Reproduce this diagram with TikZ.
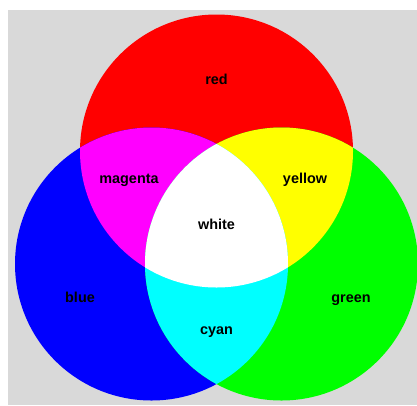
\documentclass[tikz,border=0pt]{standalone}
\usepackage{fontspec}
\setmainfont{Liberation Sans}
\definecolor{bggray}{RGB}{217,217,217}
\definecolor{cred}{RGB}{255,0,0}
\definecolor{cgreen}{RGB}{0,255,0}
\definecolor{cblue}{RGB}{0,0,255}
\definecolor{cmag}{RGB}{255,0,255}
\definecolor{cyel}{RGB}{255,255,0}
\definecolor{ccyan}{RGB}{0,255,255}
\begin{document}
\begin{tikzpicture}[x=1pt,y=-1pt,
  lbl/.style={font=\bfseries\fontsize{14.4}{16}\selectfont, text=black, inner sep=0pt,
    text height=10pt, text depth=3pt},
  disc/.style={radius=136.5pt}]
\useasboundingbox (0,0) rectangle (417,405);
\fill[white] (0,0) rectangle (417,405);
\fill[bggray] (8,10) rectangle (417,405);
\coordinate (cr) at (216.5,151);
\coordinate (cb) at (151.5,264);
\coordinate (cg) at (281.5,264);
% primary discs
\fill[cred] (cr) circle[disc];
\fill[cblue] (cb) circle[disc];
\fill[cgreen] (cg) circle[disc];
% pairwise overlaps
\begin{scope}
  \clip (cr) circle[disc];
  \fill[cmag] (cb) circle[disc];
  \fill[cyel] (cg) circle[disc];
\end{scope}
\begin{scope}
  \clip (cb) circle[disc];
  \fill[ccyan] (cg) circle[disc];
\end{scope}
% triple overlap
\begin{scope}
  \clip (cr) circle[disc];
  \clip (cb) circle[disc];
  \fill[white] (cg) circle[disc];
\end{scope}
% labels
\node[lbl] (lred) at (216.5,80.5) {red};
\node[lbl] (lmagenta) at (129,180) {magenta};
\node[lbl] (lyellow) at (305,180) {yellow};
\node[lbl] (lwhite) at (216.5,226) {white};
\node[lbl] (lblue) at (80,298.5) {blue};
\node[lbl] (lgreen) at (351,299) {green};
\node[lbl] (lcyan) at (216.5,330.5) {cyan};
\end{tikzpicture}
\end{document}
